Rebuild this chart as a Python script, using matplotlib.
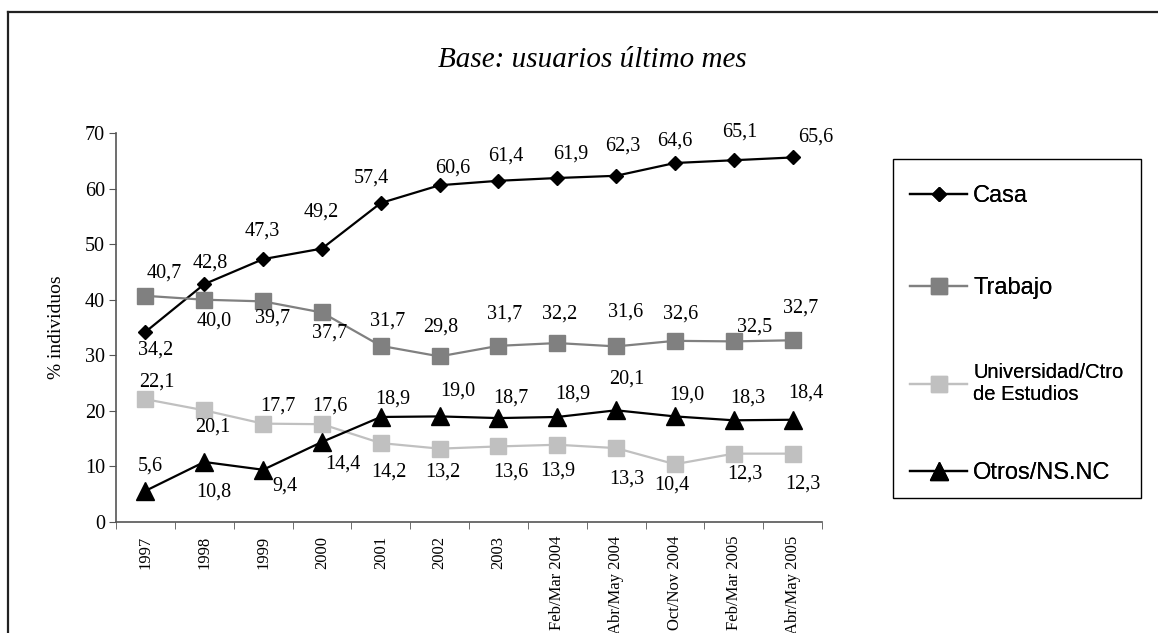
import matplotlib
matplotlib.use('Agg')
import matplotlib.pyplot as plt
from matplotlib.lines import Line2D
import numpy as np

# datos
periodos = ['1997', '1998', '1999', '2000', '2001', '2002', '2003',
            'Feb/Mar 2004', 'Abr/May 2004', 'Oct/Nov 2004', 'Feb/Mar 2005', 'Abr/May 2005']
casa = [34.2, 42.8, 47.3, 49.2, 57.4, 60.6, 61.4, 61.9, 62.3, 64.6, 65.1, 65.6]
trabajo = [40.7, 40.0, 39.7, 37.7, 31.7, 29.8, 31.7, 32.2, 31.6, 32.6, 32.5, 32.7]
universidad = [22.1, 20.1, 17.7, 17.6, 14.2, 13.2, 13.6, 13.9, 13.3, 10.4, 12.3, 12.3]
otros = [5.6, 10.8, 9.4, 14.4, 18.9, 19.0, 18.7, 18.9, 20.1, 19.0, 18.3, 18.4]

nombres = ['Casa', 'Trabajo', 'Universidad/Ctro\nde Estudios', 'Otros/NS.NC']

# desplazamiento de las etiquetas (pixeles, x derecha / y arriba)
off_casa = [(10, -18), (6, 21), (-1, 28), (-1, 37), (-9, 25), (13, 17), (7, 25), (13, 24),
            (7, 30), (0, 22), (6, 28), (23, 20)]
off_trab = [(19, 23), (10, -21), (9, -17), (8, -21), (7, 25), (1, 29), (6, 32), (2, 29),
            (10, 34), (6, 27), (21, 14), (8, 32)]
off_univ = [(11, 17), (9, -17), (15, 18), (8, 18), (8, -29), (3, -23), (12, -26), (1, -26),
            (11, -31), (-3, -21), (11, -20), (10, -30)]
off_otros = [(5, 25), (10, -30), (22, -16), (21, -22), (12, 18), (18, 25), (12, 20), (16, 23),
             (11, 31), (12, 21), (14, 22), (13, 27)]

W, H = 1158, 633
fig = plt.figure(figsize=(W / 100, H / 100), dpi=100)
serif = 'Liberation Serif'
sans = 'Liberation Sans'

ax = fig.add_axes([116 / W, 111 / H, 706 / W, 389 / H])
x = np.arange(len(periodos))

series = [
    (casa, 'black', 'D', 7.5, off_casa),
    (trabajo, '#808080', 's', 11.5, off_trab),
    (universidad, '#c0c0c0', 's', 11.5, off_univ),
    (otros, 'black', '^', 12.5, off_otros),
]
lineas = []
for (vals, col, mk, ms, offs), nom in zip(series, nombres):
    l, = ax.plot(x, vals, color=col, lw=1.6, marker=mk, ms=ms, mfc=col, mec=col, label=nom,
                 clip_on=False)
    lineas.append(l)
    for xi, v, (dx, dy) in zip(x, vals, offs):
        ax.annotate(('%.1f' % v).replace('.', ','), (xi, v), xytext=(dx, dy),
                    textcoords='offset pixels', ha='center', va='center',
                    fontsize=14.5, family=serif)

ax.set_xlim(-0.5, len(periodos) - 0.5)
ax.set_ylim(0, 70)
ax.set_yticks(range(0, 71, 10))
ax.set_yticklabels([str(t) for t in range(0, 71, 10)], fontsize=14.5, family=serif)
ax.set_xticks(x)
ax.set_xticklabels(periodos, rotation=90, fontsize=12, family=serif, va='top')
ax.set_xticks(np.arange(-0.5, len(periodos)), minor=True)
ax.tick_params(axis='x', which='major', length=0, pad=10)
ax.tick_params(axis='x', which='minor', length=5, color='#555555', direction='out')
ax.tick_params(axis='y', length=5, color='#555555', direction='out', pad=3)
for s in ['top', 'right']:
    ax.spines[s].set_visible(False)
for s in ['left', 'bottom']:
    ax.spines[s].set_color('#555555')
    ax.spines[s].set_linewidth(1.2)
ax.set_ylabel('% individuos', fontsize=14, family=serif, labelpad=14)

fig.text(592 / W, 1 - 60 / H, 'Base: usuarios último mes', ha='center', va='center',
         fontsize=21, family=serif, style='italic')

# marco exterior
fig.add_artist(Line2D([8 / W, 1.0], [1 - 12 / H, 1 - 12 / H], color='#222222', lw=1.6))
fig.add_artist(Line2D([8 / W, 8 / W], [0, 1 - 12 / H], color='#222222', lw=1.6))

# leyenda
fig.add_artist(plt.Rectangle((893 / W, 1 - 498 / H), 248 / W, 339 / H, fill=False,
                             edgecolor='black', lw=1.0, transform=fig.transFigure))
ley_y = [196, 288, 384, 473]
ley_fs = [17, 17, 14.5, 17]
for l, nom, yy, fs in zip(lineas, nombres, ley_y, ley_fs):
    px = fs * 100 / 72
    lg = fig.legend([l], [nom], loc='center left', bbox_to_anchor=(910 / W, 1 - yy / H),
                    frameon=False, borderpad=0, borderaxespad=0, handlelength=57 / px,
                    handletextpad=6 / px, prop={'family': sans, 'size': fs})
    fig.add_artist(lg)

fig.savefig('out.png', dpi=100)
